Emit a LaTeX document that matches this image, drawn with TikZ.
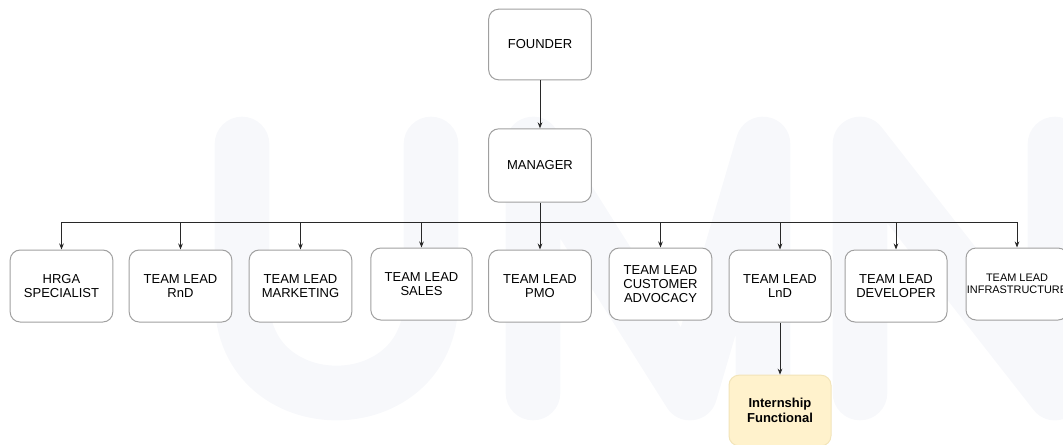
\documentclass[tikz,border=0pt]{standalone}
\usepackage{fontspec}
\setmainfont{Liberation Sans}
\usetikzlibrary{arrows.meta}
\definecolor{wm}{RGB}{247,248,251}
\definecolor{boxline}{RGB}{160,160,160}
\definecolor{conn}{RGB}{40,40,40}
\definecolor{internfill}{RGB}{255,242,204}
\definecolor{internline}{RGB}{242,228,185}
\tikzset{
  box/.style={draw=boxline, line width=0.75pt, rounded corners=7.5pt, fill=white,
    minimum width=77pt, minimum height=54pt, align=center, inner sep=0pt,
    text=black, font=\fontsize{9.75}{10.8}\selectfont},
  smallbox/.style={box, font=\fontsize{8.2}{9.2}\selectfont},
  internbox/.style={box, fill=internfill, draw=internline, font=\bfseries\fontsize{9.75}{10.8}\selectfont},
  conn/.style={draw=conn, line width=0.75pt},
  arr/.style={conn, -{Stealth[length=4.5pt,width=3.5pt]}},
  watermark/.style={draw=wm, line width=41pt, line cap=round, line join=round}
}
\begin{document}
\begin{tikzpicture}[x=0.75pt,y=-0.75pt]
\useasboundingbox (0,0) rectangle (1063,444);
\clip (0,0) rectangle (1063,444);
% faint watermark
\draw[watermark] (242,144) -- (242,300) .. controls (242,424) and (431,424) .. (431,300) -- (431,144);
\draw[watermark] (533,393) -- (533,144) -- (690,393) -- (763,144) -- (763,393);
\draw[watermark] (860,393) -- (860,144) -- (1055,393) -- (1055,144);
% nodes
\node[box, minimum height=53pt] (founder) at (540,44.5) {FOUNDER};
\node[box, minimum height=55pt] (manager) at (540,165.5) {MANAGER};
\node[box] (hrga) at (61.5,286) {HRGA\\SPECIALIST};
\node[box] (rnd) at (180.5,286) {TEAM LEAD\\RnD};
\node[box] (mkt) at (300.5,286) {TEAM LEAD\\MARKETING};
\node[box, minimum width=76pt] (sales) at (421.5,284) {TEAM LEAD\\SALES};
\node[box] (pmo) at (540,286) {TEAM LEAD\\PMO};
\node[box] (ca) at (660.5,284) {TEAM LEAD\\CUSTOMER\\ADVOCACY};
\node[box, minimum width=76.5pt] (lnd) at (780,286) {TEAM LEAD\\LnD};
\node[box, minimum width=76.5pt] (dev) at (896,286) {TEAM LEAD\\DEVELOPER};
\node[smallbox, minimum width=76.5pt] (infra) at (1017,284) {TEAM LEAD\\INFRASTRUCTURE};
\node[internbox, minimum width=76.5pt, minimum height=53pt] (intern) at (780,410.5) {Internship\\Functional};
% connectors
\draw[arr] (founder) -- (manager);
\coordinate (bus) at (540,222);
\draw[conn] (manager.south) -- (bus);
\foreach \c in {hrga,rnd,mkt,sales,pmo,ca,lnd,dev,infra}
  \draw[arr] (bus) -| (\c.north);
\draw[arr] (lnd) -- (intern);
\end{tikzpicture}
\end{document}
